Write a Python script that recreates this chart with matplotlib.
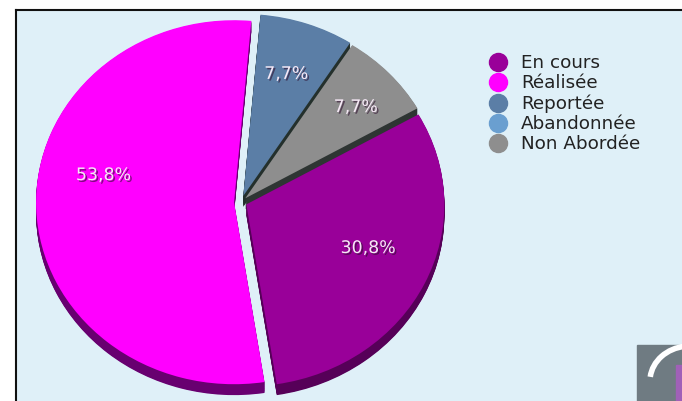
import numpy as np
import matplotlib.pyplot as plt
import matplotlib.patheffects as pe
from matplotlib.lines import Line2D
from matplotlib.patches import Rectangle, Arc

labels = ['En cours', 'Réalisée', 'Reportée', 'Abandonnée', 'Non Abordée']
counts = [4, 7, 1, 0, 1]
colors = ['#990099', '#ff00ff', '#5b7ea6', '#6a9fd0', '#8e8e8e']
side_colors = ['#560058', '#680070', '#24302c', '#24302c', '#2e3533']
explode = [0.03, 0.035, 0.035, 0.0, 0.03]

total = sum(counts)
# first slice (En cours) begins after the last three, clockwise from the top;
# the reference view is turned a few degrees clockwise
start = 90 - 360 * sum(counts[2:]) / total - 5


def pct_fmt(p):
    return f'{p:.1f}%'.replace('.', ',') if p > 0 else ''


fig = plt.figure(figsize=(6.82, 4.01), dpi=100, facecolor='white')
ax = fig.add_axes([16 / 682, 0, 666 / 682, 391 / 401], facecolor='#dff0f8')

# extruded side of the pie (3D depth)
for d in np.linspace(0.06, 0.004, 16):
    ax.pie(counts, colors=side_colors, explode=explode, startangle=start,
           counterclock=False, center=(0, -d), frame=True,
           wedgeprops=dict(linewidth=0))

wedges, texts, autotexts = ax.pie(
    counts, colors=colors, explode=explode, startangle=start,
    counterclock=False, center=(0, 0), frame=True,
    autopct=pct_fmt, pctdistance=0.72,
    wedgeprops=dict(linewidth=0),
    textprops=dict(color='#f6e8f6', fontsize=12.5))

shadow = [pe.SimplePatchShadow(offset=(1.2, -1.2), shadow_rgbFace='#301030', alpha=0.6),
          pe.Normal()]
# label placement as seen in the reference (angle in degrees, distance)
label_pos = {0: (-21.5, 0.69), 1: (168, 0.71), 2: (72, 0.74), 4: (42, 0.78)}
for i, t in enumerate(autotexts):
    t.set_path_effects(shadow)
    if i in label_pos:
        a, r = label_pos[i]
        a = np.deg2rad(a)
        t.set_position((r * np.cos(a), r * np.sin(a)))

ax.set_aspect('auto')
ax.set_xlim(-225 / 198, 441 / 198)
ax.set_ylim(-(391 - 192) / 182, 192 / 182)
ax.set_xticks([])
ax.set_yticks([])
for s in ['right', 'bottom']:
    ax.spines[s].set_visible(False)
for s in ['top', 'left']:
    ax.spines[s].set_linewidth(1.5)
    ax.spines[s].set_color('#111111')

handles = [Line2D([], [], marker='o', linestyle='', markersize=13,
                  markerfacecolor=c, markeredgecolor=c) for c in colors]
fig.legend(handles, labels, loc='upper left',
           bbox_to_anchor=(480 / 682, 1 - 45 / 401), frameon=False,
           fontsize=13.2, labelspacing=0.12, handlelength=1.0,
           handletextpad=0.75, borderpad=0, labelcolor='#222222')

# corner logo (partially visible)
fig.patches.append(Rectangle((637 / 682, 0), 45 / 682, 56 / 401,
                             transform=fig.transFigure, color='#6f7b82'))
fig.patches.append(Arc((690 / 682, 20 / 401), 80 / 682, 70 / 401,
                       theta1=95, theta2=170, lw=4, color='white',
                       transform=fig.transFigure))
fig.patches.append(Rectangle((676 / 682, 0), 6 / 682, 36 / 401,
                             transform=fig.transFigure, color='#a060b8'))

fig.savefig('out.png', dpi=100, facecolor='white')
